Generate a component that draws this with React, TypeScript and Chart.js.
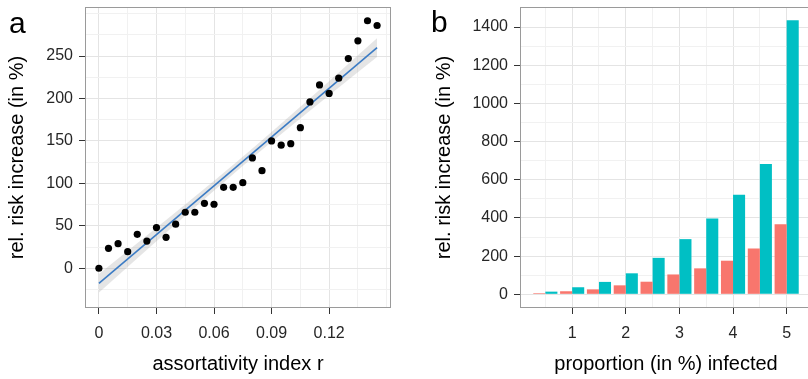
import React, { useEffect, useRef } from 'react';
import { Chart, registerables } from 'chart.js';

Chart.register(...registerables);

// ---------- Panel a data ----------
const assortR = [0, 0.005, 0.01, 0.015, 0.02, 0.025, 0.03, 0.035, 0.04, 0.045, 0.05, 0.055, 0.06, 0.065, 0.07, 0.075, 0.08, 0.085, 0.09, 0.095, 0.1, 0.105, 0.11, 0.115, 0.12, 0.125, 0.13, 0.135, 0.14, 0.145];
const riskA = [0, 23.5, 29, 19.6, 40, 32, 48, 36.5, 52, 66, 66, 76.5, 75.4, 95.4, 95.4, 100.9, 130, 115, 150, 145, 146.8, 165.6, 196, 216, 206, 224, 247, 268, 291.6, 286];
const fitX = [0, 0.145];
const fitY = [-17.7, 260];
const bandX = [0, 0.024, 0.048, 0.0725, 0.097, 0.121, 0.145];
const bandLow = [-28.7, 19.9, 67.8, 115.7, 161.7, 205.6, 249];
const bandHigh = [-6.7, 36.7, 80.6, 126.7, 174.5, 222.4, 271];
const xMajorA = [0, 0.03, 0.06, 0.09, 0.12];
const xLabelsA = ['0', '0.03', '0.06', '0.09', '0.12'];
const xMinorA = [0.015, 0.045, 0.075, 0.105, 0.135, 0.15];
const yMajorA = [0, 50, 100, 150, 200, 250];
const yLabelsA = ['0', '50', '100', '150', '200', '250'];
const yMinorA = [-25, 25, 75, 125, 175, 225, 275, 300];

// ---------- Panel b data ----------
const proportion = [0.5, 1, 1.5, 2, 2.5, 3, 3.5, 4, 4.5, 5];
const riskRed = [6, 16, 26, 47, 66, 104, 136, 176, 240, 367];
const riskBlue = [14, 37, 65, 110, 191, 289, 397, 522, 682, 1435];
const xMajorB = [1, 2, 3, 4, 5];
const xLabelsB = ['1', '2', '3', '4', '5'];
const xMinorB = [0.5, 1.5, 2.5, 3.5, 4.5];
const yMajorB = [0, 200, 400, 600, 800, 1000, 1200, 1400];
const yLabelsB = ['0', '200', '400', '600', '800', '1000', '1200', '1400'];
const yMinorB = [100, 300, 500, 700, 900, 1100, 1300, 1500];

const FONT = '"Liberation Sans", Arial, Helvetica, sans-serif';

function isIn(list: number[], v: number) {
  return list.findIndex((m) => Math.abs(m - v) < 1e-9);
}

function makeScale(
  axis: 'x' | 'y',
  min: number,
  max: number,
  majors: number[],
  labels: string[],
  minors: number[],
  title: string,
  titlePad: number,
  fitSize: number
): any {
  return {
    type: 'linear',
    position: axis === 'x' ? 'bottom' : 'left',
    min,
    max,
    offset: false,
    afterBuildTicks: (scale: any) => {
      scale.ticks = [...majors, ...minors].sort((a, b) => a - b).map((v) => ({ value: v }));
    },
    afterFit: (scale: any) => {
      if (axis === 'x') {
        scale.height = fitSize;
        scale.paddingLeft = 0;
        scale.paddingRight = 0;
      } else {
        scale.width = fitSize;
        scale.paddingTop = 0;
        scale.paddingBottom = 0;
      }
    },
    border: { display: false },
    grid: {
      offset: false,
      drawTicks: true,
      tickLength: 6,
      lineWidth: 1,
      color: (ctx: any) => (ctx.tick && isIn(majors, ctx.tick.value) >= 0 ? '#e4e4e4' : '#f1f1f1'),
      tickColor: (ctx: any) => (ctx.tick && isIn(majors, ctx.tick.value) >= 0 ? '#333333' : 'rgba(0,0,0,0)'),
    },
    ticks: {
      autoSkip: false,
      maxRotation: 0,
      minRotation: 0,
      padding: axis === 'x' ? 10 : 6,
      color: '#262626',
      font: { family: FONT, size: 16 },
      callback: (value: number) => {
        const i = isIn(majors, value);
        return i >= 0 ? labels[i] : '';
      },
    },
    title: {
      display: true,
      text: title,
      color: '#000000',
      font: { family: FONT, size: 20 },
      padding: axis === 'x' ? { top: 0, bottom: titlePad } : { top: titlePad, bottom: 0 },
    },
  };
}

const borderPlugin = {
  id: 'panelBorder',
  afterDatasetsDraw(chart: any) {
    const { ctx, chartArea } = chart;
    const { left, top, right, bottom } = chartArea;
    ctx.save();
    ctx.strokeStyle = '#9a9a9a';
    ctx.lineWidth = 1;
    ctx.strokeRect(Math.round(left) + 0.5, Math.round(top) + 0.5, Math.round(right - left) - 1, Math.round(bottom - top) - 1);
    ctx.restore();
  },
};

function PanelA() {
  const ref = useRef<HTMLCanvasElement | null>(null);
  useEffect(() => {
    if (!ref.current) return;
    const chart = new Chart(ref.current, {
      type: 'line',
      data: {
        datasets: [
          {
            label: 'points',
            data: assortR.map((x, i) => ({ x, y: riskA[i] })),
            showLine: false,
            pointRadius: 3.6,
            pointBackgroundColor: '#000000',
            pointBorderWidth: 0,
            borderColor: '#000000',
          },
          {
            label: 'fit',
            data: fitX.map((x, i) => ({ x, y: fitY[i] })),
            borderColor: '#3b7bc4',
            borderWidth: 1.6,
            pointRadius: 0,
            fill: false,
          },
          {
            label: 'bandHigh',
            data: bandX.map((x, i) => ({ x, y: bandHigh[i] })),
            borderWidth: 0,
            borderColor: 'rgba(0,0,0,0)',
            pointRadius: 0,
            cubicInterpolationMode: 'monotone',
            fill: 3,
            backgroundColor: 'rgba(150,150,150,0.25)',
          },
          {
            label: 'bandLow',
            data: bandX.map((x, i) => ({ x, y: bandLow[i] })),
            borderWidth: 0,
            borderColor: 'rgba(0,0,0,0)',
            pointRadius: 0,
            cubicInterpolationMode: 'monotone',
            fill: false,
          },
        ],
      } as any,
      options: {
        animation: false,
        responsive: false,
        events: [],
        layout: { padding: { left: 0, top: 7, right: 9, bottom: 0 } },
        plugins: { legend: { display: false }, tooltip: { enabled: false } },
        scales: {
          x: makeScale('x', -0.00725, 0.15225, xMajorA, xLabelsA, xMinorA, 'assortativity index r', 3, 71),
          y: makeScale('y', -46.8, 307.8, yMajorA, yLabelsA, yMinorA, 'rel. risk increase (in %)', 5, 85),
        },
      } as any,
      plugins: [borderPlugin],
    });
    return () => chart.destroy();
  }, []);
  return <canvas ref={ref} width={400} height={379} style={{ position: 'absolute', left: 0, top: 0, width: 400, height: 379 }} />;
}

function PanelB() {
  const ref = useRef<HTMLCanvasElement | null>(null);
  useEffect(() => {
    if (!ref.current) return;
    const chart = new Chart(ref.current, {
      type: 'bar',
      data: {
        datasets: [
          {
            label: 'red',
            data: proportion.map((x, i) => ({ x, y: riskRed[i] })),
            backgroundColor: '#F8766D',
            borderWidth: 0,
            barPercentage: 1,
            categoryPercentage: 0.9,
          },
          {
            label: 'blue',
            data: proportion.map((x, i) => ({ x, y: riskBlue[i] })),
            backgroundColor: '#00BFC4',
            borderWidth: 0,
            barPercentage: 1,
            categoryPercentage: 0.9,
          },
        ],
      } as any,
      options: {
        animation: false,
        responsive: false,
        events: [],
        layout: { padding: { left: 0, top: 7, right: 4, bottom: 0 } },
        plugins: { legend: { display: false }, tooltip: { enabled: false } },
        scales: {
          x: makeScale('x', 0.0275, 5.4725, xMajorB, xLabelsB, xMinorB, 'proportion (in %) infected', 3, 71),
          y: makeScale('y', -71.7, 1505, yMajorB, yLabelsB, yMinorB, 'rel. risk increase (in %)', 32, 120),
        },
      } as any,
      plugins: [borderPlugin],
    });
    return () => chart.destroy();
  }, []);
  return <canvas ref={ref} width={416} height={379} style={{ position: 'absolute', left: 400, top: 0, width: 416, height: 379 }} />;
}

export default function App() {
  const letter: React.CSSProperties = {
    position: 'absolute',
    fontFamily: FONT,
    fontSize: 30,
    lineHeight: '30px',
    color: '#000',
  };
  return (
    <div style={{ position: 'fixed', left: 0, top: 0, width: 808, height: 379, overflow: 'hidden', background: '#fff' }}>
      <PanelA />
      <PanelB />
      <span style={{ ...letter, left: 9, top: 8 }}>a</span>
      <span style={{ ...letter, left: 431, top: 7 }}>b</span>
    </div>
  );
}
